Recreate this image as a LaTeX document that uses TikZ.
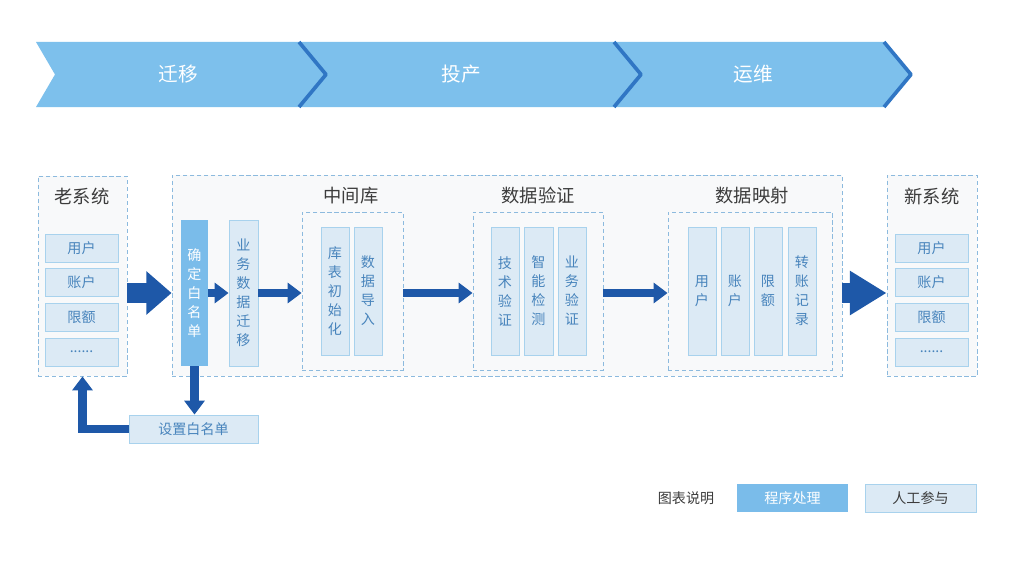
\documentclass[tikz,border=0pt]{standalone}
\usepackage{fontspec}
\setmainfont{Noto Sans CJK SC}
\usetikzlibrary{arrows.meta,fit}
\definecolor{bannerblue}{RGB}{125,192,236}
\definecolor{edgeblue}{RGB}{48,118,196}
\definecolor{arrowblue}{RGB}{30,88,168}
\definecolor{progblue}{RGB}{122,188,234}
\definecolor{lightfill}{RGB}{220,234,245}
\definecolor{lightedge}{RGB}{168,210,237}
\definecolor{itemtext}{RGB}{72,132,188}
\definecolor{dashblue}{RGB}{140,186,222}
\definecolor{panelfill}{RGB}{248,249,250}
\definecolor{titlegray}{RGB}{60,60,60}
\newcommand\itemdots{......}
\tikzset{
  panel/.style={draw=dashblue, fill=panelfill, dash pattern=on 3pt off 2pt, line width=0.6pt, inner sep=0pt},
  wh/.style 2 args={minimum width=#1*0.025cm, minimum height=#2*0.025cm},
  lbox/.style={draw=lightedge, fill=lightfill, line width=0.6pt, inner sep=0pt, text=itemtext,
    font=\fontsize{10}{13.5}\selectfont, align=center},
  pbox/.style={fill=progblue, inner sep=0pt, text=white, font=\fontsize{10}{13.5}\selectfont, align=center},
  title/.style={text=titlegray, font=\fontsize{13}{15}\selectfont},
  flow/.style={draw=arrowblue, line width=0.22cm, -{Triangle[length=0.35cm,width=0.5cm]}},
  bigflow/.style={draw=arrowblue, line width=0.48cm, -{Triangle[length=#1,width=1.05cm]}},
}
\begin{document}
\begin{tikzpicture}[x=0.025cm, y=-0.025cm]
\useasboundingbox (0,0) rectangle (1030,565);
\fill[white] (0,0) rectangle (1030,565);
% phases
\foreach \a/\n/\b in {36/55/300, 300/327/615, 615/642/885}
  \fill[bannerblue] (\a,42) -- (\b,42) -- (\b+27,74.5) -- (\b,107) -- (\a,107) -- (\n,74.5) -- cycle;
\foreach \b/\t/\tx [count=\i] in {300/迁移/178, 615/投产/461, 885/运维/753} {
  \draw[edgeblue, line width=2.6pt, line join=round] (\b-1,42) -- (\b+26,74.5) -- (\b-1,107);
  \node[text=white, font=\fontsize{14}{16}\selectfont] (phase\i) at (\tx,74) {\t};
}
% panels
\node[panel, fit={(38,176) (127,376)}] (old) {};
\node[panel, fit={(172,175) (842,376)}] (mid) {};
\node[panel, fit={(887,175) (977,376)}] (new) {};
\node[panel, fit={(302,212) (403,370)}] (db) {};
\node[panel, fit={(473,212) (603,370)}] (ver) {};
\node[panel, fit={(668,212) (832,370)}] (map) {};
\node[title] (told) at (82,196) {老系统};
\node[title] (tnew) at (932,196) {新系统};
\node[title] (tdb) at (351,196) {中间库};
\node[title] (tver) at (538,196) {数据验证};
\node[title] (tmap) at (752,196) {数据映射};
% old / new system items
\foreach \t/\y [count=\i] in {用户/248, 账户/282, 限额/317, \itemdots/352} {
  \node[lbox, wh={73}{28}] (o\i) at (81.5,\y) {\t};
  \node[lbox, wh={73}{28}] (n\i) at (931.5,\y) {\t};
}
% steps
\node[pbox, wh={27}{146}] (wl) at (194.5,293) {确\\定\\白\\名\\单};
\node[lbox, wh={29}{146}] (move) at (243.5,293) {业\\务\\数\\据\\迁\\移};
\node[lbox, wh={129}{28}] (set) at (193.5,429) {设置白名单};
\node[lbox, wh={28}{128}] (init) at (335,291) {库\\表\\初\\始\\化};
\node[lbox, wh={28}{128}] (load) at (368,291) {数\\据\\导\\入};
\node[lbox, wh={28}{128}] (tech) at (505,291) {技\\术\\验\\证};
\node[lbox, wh={29}{128}] (smart) at (538.5,291) {智\\能\\检\\测};
\node[lbox, wh={28}{128}] (biz) at (572,291) {业\\务\\验\\证};
\node[lbox, wh={28}{128}] (m1) at (702,291) {用\\户};
\node[lbox, wh={28}{128}] (m2) at (735,291) {账\\户};
\node[lbox, wh={28}{128}] (m3) at (768,291) {限\\额};
\node[lbox, wh={28}{128}] (m4) at (802,291) {转\\账\\记\\录};
% arrows
\draw[bigflow=0.63cm] (old.east |- wl.center) -- (mid.west |- wl.center);
\draw[flow] (wl.east) -- (move.west);
\draw[flow] (move.east) -- (db.west |- move.east);
\draw[flow] (db.east |- move.east) -- (ver.west |- move.east);
\draw[flow] (ver.east |- move.east) -- (map.west |- move.east);
\draw[bigflow=0.92cm] (mid.east |- wl.center) -- (new.west |- wl.center);
\draw[flow] (wl.south) -- (wl.south |- set.north);
\draw[flow] (set.west) -| (old.south);
% legend
\node[text=titlegray, font=\fontsize{10}{12}\selectfont] (key) at (686,498) {图表说明};
\node[pbox, wh={111}{28}] (keyprog) at (792.5,498) {程序处理};
\node[lbox, wh={111}{28}, text=titlegray] (keyman) at (920.5,498) {人工参与};
\end{tikzpicture}
\end{document}
